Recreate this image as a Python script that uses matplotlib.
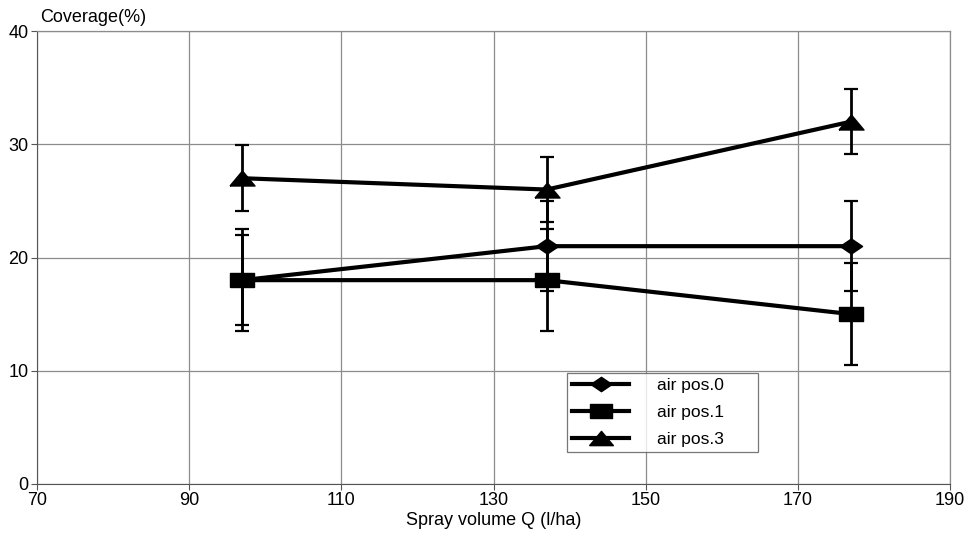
import matplotlib
matplotlib.use("Agg")
import matplotlib.pyplot as plt

plt.rcParams['font.family'] = ['Liberation Sans', 'DejaVu Sans']

x_vals = [97, 137, 177]
pos0 = [18, 21, 21]
pos1 = [18, 18, 15]
pos3 = [27, 26, 32]
err0 = [4.0, 4.0, 3.95]
err1 = [4.5, 4.5, 4.5]
err3 = [2.9, 2.85, 2.85]
labels = ["air pos.0", "air pos.1", "air pos.3"]
x_ticks = [70, 90, 110, 130, 150, 170, 190]
y_ticks = [0, 10, 20, 30, 40]

diamond = [(-1, 0), (0, 0.68), (1, 0), (0, -0.68), (-1, 0)]
rect = [(-1, -0.62), (1, -0.62), (1, 0.62), (-1, 0.62), (-1, -0.62)]
tri = [(-1, -0.6), (1, -0.6), (0, 0.6), (-1, -0.6)]

fig = plt.figure(figsize=(9.71, 5.37), dpi=100)
ax = fig.add_axes([37/971, 1-484/537, 913/971, 453/537])

series = [(pos0, err0, diamond, 16), (pos1, err1, rect, 17), (pos3, err3, tri, 18)]
for (vals, errs, mk, ms), lab in zip(series, labels):
    ax.errorbar(x_vals, vals, yerr=errs, color='black', ecolor='black',
                elinewidth=2, capsize=5, capthick=1.6, zorder=3)
    ax.plot(x_vals, vals, color='black', lw=3, marker=mk, markersize=ms,
            label=lab, zorder=4)

ax.set_xlim(70, 190)
ax.set_ylim(0, 40)
ax.set_xticks(x_ticks)
ax.set_yticks(y_ticks)
ax.grid(True, color='#8c8c8c', lw=0.9)
ax.set_axisbelow(True)
for s in ['top', 'right']:
    ax.spines[s].set_color('#8c8c8c')
    ax.spines[s].set_linewidth(0.9)
ax.spines['left'].set_color('#555555')
ax.spines['bottom'].set_color('#555555')
ax.tick_params(axis='both', labelsize=13, length=4, color='#555555', pad=2)

ax.set_xlabel("Spray volume Q (l/ha)", fontsize=13, labelpad=2)
fig.text(40/971, 1-18/537, "Coverage(%)", fontsize=13, ha='left', va='center')

leg = ax.legend(loc='upper left', bbox_to_anchor=(0.5805, 0.0746, 0.2092, 0.1704),
                mode='expand', fontsize=12.5,
                frameon=True, fancybox=False, edgecolor='#555555',
                handlelength=3.3, borderpad=0.28, labelspacing=0.68,
                handletextpad=1.6, borderaxespad=0, markerscale=0.95)
leg.get_frame().set_linewidth(0.9)

fig.savefig("out.png", dpi=100)
